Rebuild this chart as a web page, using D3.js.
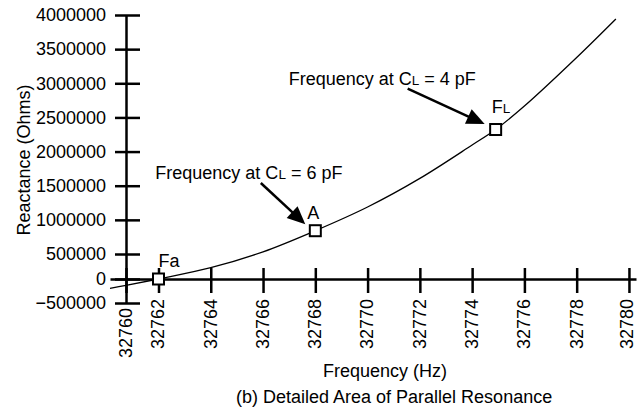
<!DOCTYPE html>
<html>
<head>
<meta charset="utf-8">
<script src="https://cdn.jsdelivr.net/npm/d3@7/dist/d3.min.js"></script>
<style>
  html, body { margin: 0; padding: 0; background: #fff; }
  svg { display: block; font-family: "Liberation Sans", Arial, Helvetica, sans-serif; }
</style>
</head>
<body>
<svg id="chart" width="637" height="408"></svg>
<script>
// ---- data ----
const frequencyHz = [32759.0, 32760, 32762, 32764, 32766, 32768, 32770, 32772, 32774, 32774.9, 32776, 32778, 32779.5];
const reactanceOhms = [-194000, -135000, 0, 226000, 532000, 841000, 1188000, 1607000, 2096000, 2323000, 2667000, 3378000, 3942000];

const markerFreq = [32762, 32768, 32774.9];
const markerReact = [0, 841000, 2323000];
const markerMain = ["F", "A", "F"];
const markerSub = ["a", "", "L"];

const xTickValues = [32760, 32762, 32764, 32766, 32768, 32770, 32772, 32774, 32776, 32778, 32780];
const yTickValues = [-500000, 0, 500000, 1000000, 1500000, 2000000, 2500000, 3000000, 3500000, 4000000];

const xTitle = "Frequency (Hz)";
const yTitle = "Reactance (Ohms)";
const caption = "(b) Detailed Area of Parallel Resonance";
const noteCap = ["4", "6"]; // pF for FL and A annotations

// ---- drawing ----
const svg = d3.select("#chart");
const FONT = 18;

// piecewise scales (the original plot compresses its first interval on both axes)
const x = d3.scaleLinear()
  .domain([32759, 32760, 32762, 32780.27])
  .range([110, 126, 158.5, 636]);
const y = d3.scaleLinear()
  .domain([-500000, 0, 500000, 4000000])
  .range([303, 279, 254, 15]);

// y axis
const yAxis = svg.append("g")
  .attr("transform", `translate(${x(32760)},0)`)
  .call(d3.axisLeft(y).tickValues(yTickValues).tickSizeInner(11).tickSizeOuter(0).tickPadding(9)
    .tickFormat(d3.format("d")));
yAxis.select(".domain").attr("stroke", "#000").attr("stroke-width", 2.5);
yAxis.selectAll(".tick line").attr("x1", 14).attr("stroke", "#000").attr("stroke-width", 2.5);
yAxis.selectAll(".tick text").attr("font-size", FONT).attr("fill", "#000");

// x axis at y = 0
const lastX = xTickValues[xTickValues.length - 1];
const xAxis = svg.append("g")
  .attr("transform", `translate(0,${y(0)})`)
  .call(d3.axisBottom(x).tickValues(xTickValues).tickSizeInner(14).tickSizeOuter(0)
    .tickFormat(d3.format("d")));
xAxis.select(".domain").attr("stroke", "#000").attr("stroke-width", 2.5);
xAxis.selectAll(".tick line").attr("y1", -11).attr("stroke", "#000").attr("stroke-width", 2.5);
xAxis.selectAll(".tick text")
  .attr("font-size", FONT).attr("fill", "#000")
  .attr("transform", "rotate(-90)")
  .attr("x", d => d === xTickValues[0] ? -29 : -20).attr("y", 0)
  .attr("dy", d => d === lastX ? "0.18em" : "0.3em")
  .attr("text-anchor", "end");
svg.selectAll("g").attr("font-family", null);

// curve
const pts = frequencyHz.map((f, i) => [f, reactanceOhms[i]]);
svg.append("path")
  .datum(pts)
  .attr("fill", "none")
  .attr("stroke", "#000")
  .attr("stroke-width", 1.3)
  .attr("d", d3.line().x(d => x(d[0])).y(d => y(d[1])).curve(d3.curveCatmullRom.alpha(0.5)));

// markers
const markers = markerFreq.map((f, i) => ({ f, v: markerReact[i], main: markerMain[i], sub: markerSub[i] }));
svg.selectAll("rect.mk").data(markers).enter().append("rect")
  .attr("class", "mk")
  .attr("x", d => x(d.f) - 5.5).attr("y", d => y(d.v) - 5.5)
  .attr("width", 11).attr("height", 11)
  .attr("fill", "#fff").attr("stroke", "#000").attr("stroke-width", 2);

// marker labels
const labelOffsets = [[0, -12], [-8, -12], [-4, -17]];
markers.forEach((d, i) => {
  const t = svg.append("text")
    .attr("x", x(d.f) + labelOffsets[i][0])
    .attr("y", y(d.v) + labelOffsets[i][1])
    .attr("font-size", FONT).attr("fill", "#000");
  t.append("tspan").text(d.main);
  if (d.sub) {
    t.append("tspan").attr("font-size", d.sub === "L" ? 13.5 : FONT).text(d.sub);
  }
});

// arrows + annotation texts
function arrow(x1, y1, x2, y2) {
  const ang = Math.atan2(y2 - y1, x2 - x1);
  const L = 18, Wd = 8;
  const bx = x2 - L * Math.cos(ang), by = y2 - L * Math.sin(ang);
  svg.append("line")
    .attr("x1", x1).attr("y1", y1).attr("x2", bx + 2 * Math.cos(ang)).attr("y2", by + 2 * Math.sin(ang))
    .attr("stroke", "#000").attr("stroke-width", 2.5);
  const px = -Math.sin(ang), py = Math.cos(ang);
  svg.append("path")
    .attr("d", `M${x2},${y2}L${bx + Wd * px},${by + Wd * py}L${bx - Wd * px},${by - Wd * py}Z`)
    .attr("fill", "#000");
}
function note(tx, ty, pf) {
  const t = svg.append("text").attr("x", tx).attr("y", ty).attr("font-size", FONT).attr("fill", "#000");
  t.append("tspan").text("Frequency at C");
  t.append("tspan").attr("font-size", 13.5).text("L");
  t.append("tspan").text(` = ${pf} pF`);
}
// A annotation (6 pF)
{
  const ax = x(markerFreq[1]), ay = y(markerReact[1]);
  arrow(ax - 54.5, ay - 47.7, ax - 10, ay - 6.4);
  note(ax - 160, ay - 52, noteCap[1]);
}
// FL annotation (4 pF)
{
  const fx = x(markerFreq[2]), fy = y(markerReact[2]);
  arrow(fx - 88, fy - 41, fx - 11, fy - 5.5);
  note(fx - 207, fy - 45, noteCap[0]);
}

// titles
svg.append("text")
  .attr("transform", "translate(30,160) rotate(-90)")
  .attr("text-anchor", "middle").attr("font-size", FONT).attr("fill", "#000")
  .text(yTitle);
svg.append("text")
  .attr("x", 323).attr("y", 377)
  .attr("font-size", FONT).attr("fill", "#000")
  .text(xTitle);
svg.append("text")
  .attr("x", 236).attr("y", 403)
  .attr("font-size", FONT).attr("fill", "#000")
  .text(caption);
</script>
</body>
</html>
